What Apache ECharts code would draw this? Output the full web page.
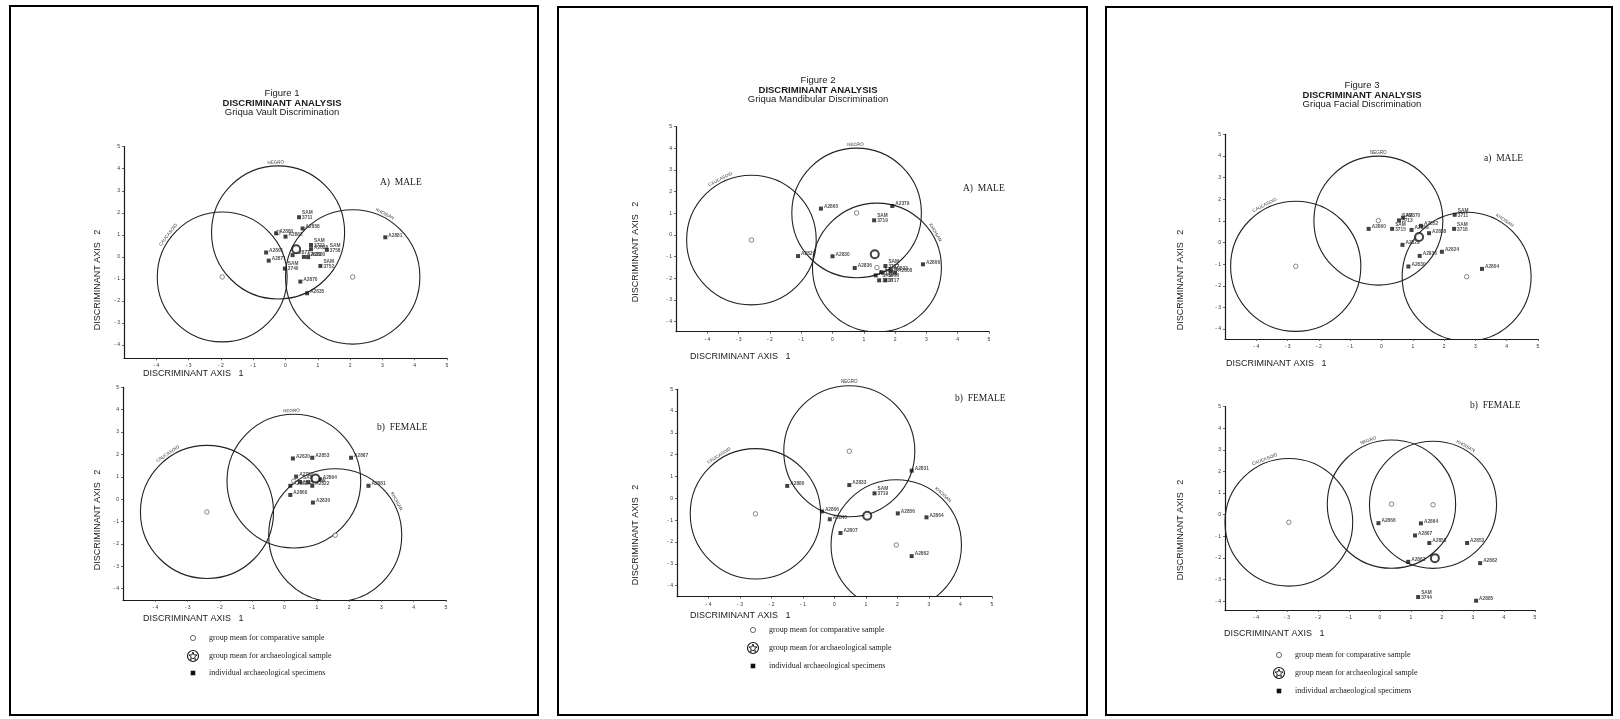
<!DOCTYPE html>
<html><head><meta charset="utf-8">
<script src="https://cdn.jsdelivr.net/npm/echarts@6/dist/echarts.min.js"></script>
<style>html,body{margin:0;padding:0;background:#fff}#c{width:1620px;height:719px}</style>
</head><body><div id="c"></div>
<script>
// ---------------- DATA ----------------
const groupNames = ['CAUCASOID', 'NEGRO', 'KHOISAN'];
const tickValuesX = [-4, -3, -2, -1, 0, 1, 2, 3, 4, 5];
const tickValuesY = [-4, -3, -2, -1, 0, 1, 2, 3, 4, 5];
const figureTitles = ['Figure 1', 'Figure 2', 'Figure 3'];
const analysisTitle = 'DISCRIMINANT ANALYSIS';
const subTitles = ['Griqua Vault Discrimination', 'Griqua Mandibular Discrimination', 'Griqua Facial Discrimination'];
const plotTags = ['A)  MALE', 'b)  FEMALE', 'A)  MALE', 'b)  FEMALE', 'a)  MALE', 'b)  FEMALE'];
const legendTexts = ['group mean for comparative sample', 'group mean for archaeological sample', 'individual archaeological specimens'];

// Figure 1 - vault, male
const f1mGroupX = [-1.96, -0.23, 2.08];
const f1mGroupY = [-0.91, 1.11, -0.91];
const f1mGroupR = [2.01, 2.06, 2.08];
const f1mArchMean = [0.33, 0.35];
const f1mNames = ['SAM\n3711', 'A2880', 'A2862', 'A2858', 'SAM\n3722', 'A2838', 'SAM\n3758', 'A2801', 'A2871', 'A2877', 'A2833', 'A2830', 'SAM\n3752', 'SAM\n3740', 'A2870', 'A2835', 'A2881'];
const f1mX = [0.42, -0.29, 0.00, 0.53, 0.79, 0.79, 1.28, -0.60, -0.52, 0.22, 0.57, 0.70, 1.08, -0.02, 0.46, 0.67, 3.09];
const f1mY = [1.80, 1.07, 0.92, 1.29, 0.54, 0.35, 0.32, 0.20, -0.17, 0.08, 0.00, -0.01, -0.41, -0.53, -1.12, -1.65, 0.89];

// Figure 1 - vault, female
const f1fGroupX = [-2.40, 0.29, 1.57];
const f1fGroupY = [-0.57, 0.81, -1.61];
const f1fGroupR = [2.06, 2.07, 2.06];
const f1fArchMean = [0.96, 0.92];
const f1fNames = ['A2820', 'A2853', 'A2867', 'A2797', 'SAM\n3715', 'A2859', 'A2864', 'A2862', 'A2822', 'A2860', 'A2830', 'A2881'];
const f1fX = [0.26, 0.86, 2.06, 0.36, 0.48, 0.74, 1.09, 0.18, 0.86, 0.18, 0.88, 2.60];
const f1fY = [1.82, 1.85, 1.85, 1.01, 0.77, 0.75, 0.89, 0.60, 0.60, 0.19, -0.15, 0.60];

// Figure 2 - mandible, male
const f2mGroupX = [-2.59, 0.77, 1.42];
const f2mGroupY = [-0.23, 1.02, -1.50];
const f2mGroupR = [2.07, 2.07, 2.06];
const f2mArchMean = [1.35, -0.89];
const f2mNames = ['A2829', 'A2865', 'A2379', 'SAM\n3719', 'A2830', 'A2836', 'A2806', 'SAM\n3717', 'A2833', 'A2808', 'A2858', 'A2377', 'SAM\n3716', 'SAM\n3717'];
const f2mX = [-1.10, -0.37, 1.91, 1.33, 0.00, 0.71, 2.89, 1.69, 1.86, 2.00, 1.56, 1.38, 1.49, 1.69];
const f2mY = [-0.97, 1.22, 1.34, 0.68, -0.98, -1.52, -1.35, -1.43, -1.66, -1.74, -1.71, -1.86, -2.09, -2.09];

// Figure 2 - mandible, female
const f2fGroupX = [-2.51, 0.47, 1.96];
const f2fGroupY = [-0.71, 2.16, -2.14];
const f2fGroupR = [2.07, 2.08, 2.07];
const f2fArchMean = [1.04, -0.80];
const f2fNames = ['A2880', 'A2833', 'SAM\n3719', 'A2831', 'A2806', 'A2840', 'A2807', 'A2856', 'A2864', 'A2862'];
const f2fX = [-1.50, 0.47, 1.27, 2.45, -0.40, -0.15, 0.19, 2.01, 2.92, 2.45];
const f2fY = [0.57, 0.61, 0.23, 1.27, -0.60, -0.96, -1.59, -0.69, -0.87, -2.65];

// Figure 3 - face, male
const f3mGroupX = [-2.74, -0.10, 2.72];
const f3mGroupY = [-1.10, 1.01, -1.58];
const f3mGroupR = [2.08, 2.06, 2.06];
const f3mArchMean = [1.20, 0.25];
const f3mNames = ['A2860', 'SAM\n3715', 'SAM\n3713', 'A2370', 'A2859', 'A2852', 'A2858', 'A2829', 'A2836', 'A2830', 'A2824', 'SAM\n3711', 'SAM\n3718', 'A2804'];
const f3mX = [-0.41, 0.34, 0.56, 0.69, 0.96, 1.26, 1.52, 0.67, 1.22, 0.86, 1.93, 2.34, 2.32, 3.21];
const f3mY = [0.63, 0.63, 1.02, 1.15, 0.58, 0.77, 0.43, -0.11, -0.62, -1.11, -0.43, 1.28, 0.63, -1.22];

// Figure 3 - face, female
const f3fGroupX = [-2.94, 0.37, 1.71];
const f3fGroupY = [-0.35, 0.49, 0.46];
const f3fGroupR = [2.06, 2.07, 2.05];
const f3fArchMean = [1.77, -2.01];
const f3fNames = ['A2866', 'A2864', 'A2867', 'A2858', 'A2863', 'A2853', 'A2862', 'SAM\n3744', 'A2885'];
const f3fX = [-0.05, 1.32, 1.13, 1.59, 0.91, 2.81, 3.23, 1.23, 3.10];
const f3fY = [-0.39, -0.40, -0.96, -1.31, -2.18, -1.31, -2.24, -3.81, -3.98];

// ---------------- LAYOUT ----------------
const plots = [
  {gx: f1mGroupX, gy: f1mGroupY, gr: f1mGroupR, mean: f1mArchMean, names: f1mNames, xs: f1mX, ys: f1mY,
   grid: {left: 124, top: 146.7, width: 323, height: 211.6}, yMin: -4.6, tagPos: [380, 182], labelAngles: [142, 92, 63]},
  {gx: f1fGroupX, gy: f1fGroupY, gr: f1fGroupR, mean: f1fArchMean, names: f1fNames, xs: f1fX, ys: f1fY,
   grid: {left: 123, top: 387.3, width: 323, height: 212.6}, yMin: -4.5, tagPos: [377, 427], labelAngles: [124, 92, 29]},
  {gx: f2mGroupX, gy: f2mGroupY, gr: f2mGroupR, mean: f2mArchMean, names: f2mNames, xs: f2mX, ys: f2mY,
   grid: {left: 676, top: 126.7, width: 313, height: 205}, yMin: -4.46, tagPos: [963, 188], labelAngles: [117, 91, 31]},
  {gx: f2fGroupX, gy: f2fGroupY, gr: f2fGroupR, mean: f2fArchMean, names: f2fNames, xs: f2fX, ys: f2fY,
   grid: {left: 677, top: 389.3, width: 315, height: 207.4}, yMin: -4.51, tagPos: [955, 398], labelAngles: [122, 90, 47]},
  {gx: f3mGroupX, gy: f3mGroupY, gr: f3mGroupR, mean: f3mArchMean, names: f3mNames, xs: f3mX, ys: f3mY,
   grid: {left: 1225, top: 134.3, width: 313, height: 204.7}, yMin: -4.46, tagPos: [1484, 158], labelAngles: [117, 90, 56]},
  {gx: f3fGroupX, gy: f3fGroupY, gr: f3fGroupR, mean: f3fArchMean, names: f3fNames, xs: f3fX, ys: f3fY,
   grid: {left: 1225, top: 406.7, width: 310, height: 203.3}, yMin: -4.41, tagPos: [1470, 405], labelAngles: [111, 110, 61]}
];

const panels = [
  {rect: [10, 6, 528, 709], titleX: 282, titleY: [93, 103, 112], ax1: [[143, 374], [143, 619]], ax2: [[98, 280], [98, 520]], legendX: 193, legendY: [638, 656, 673]},
  {rect: [558, 7, 529, 708], titleX: 818, titleY: [80, 90, 99], ax1: [[690, 357], [690, 616]], ax2: [[636, 252], [636, 535]], legendX: 753, legendY: [630, 648, 666]},
  {rect: [1106, 7, 506, 708], titleX: 1362, titleY: [85, 95, 104], ax1: [[1226, 364], [1224, 634]], ax2: [[1181, 280], [1181, 530]], legendX: 1279, legendY: [655, 673, 691]}
];

const SANS = '"Liberation Sans", Arial, sans-serif';
const SERIF = '"Liberation Serif", "Times New Roman", serif';
const INK = '#1a1a1a';

function fmtTick(v) { return v < 0 ? '- ' + (-v) : String(v); }

const grids = [], xAxes = [], yAxes = [], series = [];
plots.forEach((p, i) => {
  grids.push(Object.assign({containLabel: false}, p.grid));
  xAxes.push({
    gridIndex: i, type: 'value', min: -5, max: 5, interval: 1,
    axisLine: {onZero: false, lineStyle: {color: INK, width: 1.2}},
    axisTick: {show: true, length: 2, customValues: tickValuesX, lineStyle: {color: '#444', width: 0.8}},
    axisLabel: {fontSize: 5, margin: 5, color: '#333', fontFamily: SANS, customValues: tickValuesX,
      formatter: v => (v <= -5 ? '' : fmtTick(v))},
    splitLine: {show: false}
  });
  yAxes.push({
    gridIndex: i, type: 'value', min: p.yMin, max: 5,
    axisLine: {show: true, onZero: false, lineStyle: {color: INK, width: 1.2}},
    axisTick: {show: true, length: 2, customValues: tickValuesY, lineStyle: {color: '#444', width: 0.8}},
    axisLabel: {fontSize: 5, margin: 4, color: '#333', fontFamily: SANS, customValues: tickValuesY, formatter: fmtTick},
    splitLine: {show: false}
  });
  // comparative-sample circles (clipped only at the x axis)
  series.push({
    type: 'custom', xAxisIndex: i, yAxisIndex: i, clip: false, z: 2,
    data: p.gx.map((x, k) => [x, p.gy[k], p.gr[k], k]),
    renderItem: (params, api) => {
      const k = api.value(3);
      const c = api.coord([api.value(0), api.value(1)]);
      const r = api.size([api.value(2), 0])[0];
      const bottom = api.coord([0, p.yMin])[1];
      const a = p.labelAngles[k] * Math.PI / 180;
      const lx = c[0] + (r + 1) * Math.cos(a);
      const ly = c[1] - (r + 1) * Math.sin(a);
      return {type: 'group',
        clipPath: {type: 'rect', shape: {x: 0, y: 0, width: 1620, height: bottom}},
        children: [
        {type: 'circle', shape: {cx: c[0], cy: c[1], r: r}, style: {fill: 'none', stroke: '#222', lineWidth: 1.1}},
        {type: 'text', x: lx, y: ly, rotation: a - Math.PI / 2,
         style: {text: groupNames[k], fontSize: 4.5, fontFamily: SANS, fill: '#333',
                 textAlign: 'center', align: 'center', textVerticalAlign: 'bottom', verticalAlign: 'bottom'}}
      ]};
    }
  });
  // comparative-sample group means
  series.push({
    type: 'scatter', xAxisIndex: i, yAxisIndex: i, z: 3, symbol: 'circle', symbolSize: 4.5,
    itemStyle: {color: '#fff', borderColor: '#444', borderWidth: 0.8},
    data: p.gx.map((x, k) => [x, p.gy[k]])
  });
  // individual archaeological specimens
  series.push({
    type: 'scatter', xAxisIndex: i, yAxisIndex: i, z: 4, symbol: 'rect', symbolSize: 4,
    itemStyle: {color: '#111'},
    label: {show: true, position: 'right', distance: 1, offset: [0, -2], formatter: '{b}',
            fontSize: 4.8, lineHeight: 5, fontWeight: 'bold', color: '#222', fontFamily: SANS},
    data: p.names.map((n, k) => ({name: n, value: [p.xs[k], p.ys[k]]}))
  });
  // archaeological group mean
  series.push({
    type: 'scatter', xAxisIndex: i, yAxisIndex: i, z: 5, symbol: 'circle', symbolSize: 8,
    itemStyle: {color: '#fff', borderColor: '#111', borderWidth: 2},
    data: [p.mean]
  });
});

function txt(x, y, text, font, align, extra) {
  return Object.assign({type: 'text', x: x, y: y, z: 10,
    style: {text: text, font: font, fill: INK, textAlign: align || 'left', align: align || 'left',
            textVerticalAlign: 'middle', verticalAlign: 'middle'}}, extra || {});
}
function starPoints(cx, cy, ro, ri) {
  const pts = [];
  for (let j = 0; j < 10; j++) {
    const r = j % 2 === 0 ? ro : ri;
    const a = -Math.PI / 2 + j * Math.PI / 5;
    pts.push([cx + r * Math.cos(a), cy + r * Math.sin(a)]);
  }
  return pts;
}

const graphics = [];
panels.forEach((pn, i) => {
  graphics.push({type: 'rect', z: 1, shape: {x: pn.rect[0], y: pn.rect[1], width: pn.rect[2], height: pn.rect[3]},
    style: {fill: 'none', stroke: '#000', lineWidth: 2}});
  graphics.push(txt(pn.titleX, pn.titleY[0], figureTitles[i], '9.5px ' + SANS, 'center'));
  graphics.push(txt(pn.titleX, pn.titleY[1], analysisTitle, 'bold 9.5px ' + SANS, 'center'));
  graphics.push(txt(pn.titleX, pn.titleY[2], subTitles[i], '9.5px ' + SANS, 'center'));
  pn.ax1.forEach(a => graphics.push(txt(a[0], a[1], 'DISCRIMINANT AXIS   1', '9px ' + SANS, 'left')));
  pn.ax2.forEach(a => graphics.push(txt(a[0], a[1], 'DISCRIMINANT AXIS   2', '9px ' + SANS, 'center', {rotation: Math.PI / 2})));
  const lx = pn.legendX, ly = pn.legendY;
  graphics.push({type: 'circle', z: 10, shape: {cx: lx, cy: ly[0], r: 2.6}, style: {fill: '#fff', stroke: '#444', lineWidth: 0.8}});
  graphics.push({type: 'circle', z: 10, shape: {cx: lx, cy: ly[1], r: 5.5}, style: {fill: '#fff', stroke: '#111', lineWidth: 1.1}});
  graphics.push({type: 'polygon', z: 11, shape: {points: starPoints(lx, ly[1] + 0.3, 4.2, 1.8)}, style: {fill: 'none', stroke: '#111', lineWidth: 0.9}});
  graphics.push({type: 'rect', z: 10, shape: {x: lx - 2.3, y: ly[2] - 2.3, width: 4.6, height: 4.6}, style: {fill: '#111'}});
  legendTexts.forEach((t, k) => graphics.push(txt(lx + 16, ly[k], t, '8px ' + SERIF, 'left')));
});
plots.forEach((p, i) => graphics.push(txt(p.tagPos[0], p.tagPos[1], plotTags[i], '9.5px ' + SERIF, 'left')));

const chart = echarts.init(document.getElementById('c'), null, {renderer: 'canvas'});
chart.setOption({
  backgroundColor: '#fff',
  animation: false,
  grid: grids, xAxis: xAxes, yAxis: yAxes, series: series,
  graphic: {elements: graphics}
});
</script></body></html>
